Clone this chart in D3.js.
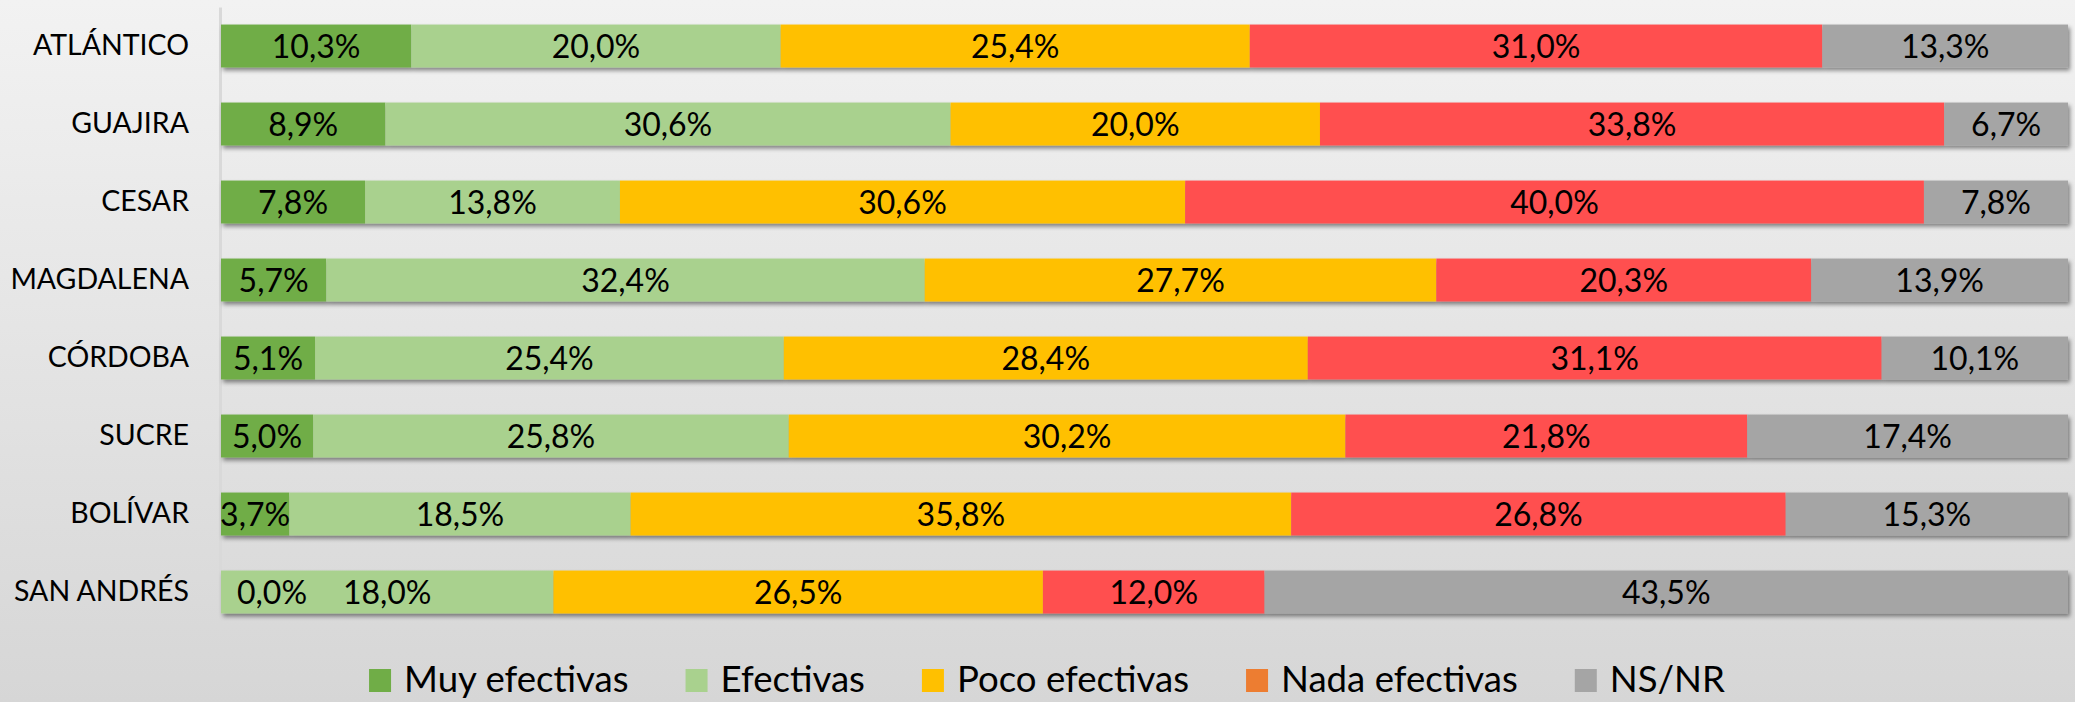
<!DOCTYPE html>
<html><head><meta charset="utf-8">
<script src="https://cdn.jsdelivr.net/npm/d3@7"></script>
<style>html,body{margin:0;padding:0;overflow:hidden;background:#e5e5e5}</style>
</head><body><svg id="chart" width="2075" height="702"></svg>
<script>
const categories = ["ATLÁNTICO","GUAJIRA","CESAR","MAGDALENA","CÓRDOBA","SUCRE","BOLÍVAR","SAN ANDRÉS"];
const seriesNames = ["Muy efectivas","Efectivas","Poco efectivas","Nada efectivas","NS/NR"];
const muyEfectivas  = [10.3, 8.9, 7.8, 5.7, 5.1, 5.0, 3.7, 0.0];
const efectivas     = [20.0, 30.6, 13.8, 32.4, 25.4, 25.8, 18.5, 18.0];
const pocoEfectivas = [25.4, 20.0, 30.6, 27.7, 28.4, 30.2, 35.8, 26.5];
const nadaEfectivas = [31.0, 33.8, 40.0, 20.3, 31.1, 21.8, 26.8, 12.0];
const nsnr          = [13.3, 6.7, 7.8, 13.9, 10.1, 17.4, 15.3, 43.5];
const barColors    = ["#70AD47","#A9D18E","#FFC000","#FF5050","#A5A5A5"];
const legendColors = ["#70AD47","#A9D18E","#FFC000","#ED7D31","#A5A5A5"];

const seriesValues = [muyEfectivas, efectivas, pocoEfectivas, nadaEfectivas, nsnr];
const rows = categories.map((c, i) => {
  const r = {cat: c};
  seriesNames.forEach((s, j) => r[s] = seriesValues[j][i]);
  return r;
});

const W = 2075, H = 702;
const svg = d3.select("#chart");
const defs = svg.append("defs");
const grad = defs.append("linearGradient").attr("id","bg").attr("x1",0).attr("y1",0).attr("x2",0).attr("y2",1);
grad.append("stop").attr("offset","0%").attr("stop-color","#f2f2f2");
grad.append("stop").attr("offset","100%").attr("stop-color","#d6d6d6");
const f = defs.append("filter").attr("id","shadow").attr("x","-5%").attr("y","-30%").attr("width","110%").attr("height","180%");
f.append("feDropShadow").attr("dx",2).attr("dy",3).attr("stdDeviation",2.2).attr("flood-color","#000").attr("flood-opacity",0.45);
defs.append("clipPath").attr("id","plotclip").append("rect").attr("x",219).attr("y",0).attr("width",1856).attr("height",640);

svg.append("rect").attr("width",W).attr("height",H).attr("fill","url(#bg)");

const x = d3.scaleLinear().domain([0,1]).range([221, 2068]);
const y = d3.scaleBand().domain(categories).range([7, 631]).paddingInner(0.45).paddingOuter(0.225);

const stack = d3.stack().keys(seriesNames).offset(d3.stackOffsetExpand);
const stacked = stack(rows);

const loc = d3.formatLocale({decimal: ",", thousands: ".", grouping: [3], currency: ["", ""]});
const fmt = loc.format(".1f");

// axis
const axisG = svg.append("g").attr("transform","translate(220,0)")
  .call(d3.axisLeft(y).tickSize(0).tickPadding(31));
axisG.select(".domain").attr("stroke","#d9d9d9").attr("stroke-width",3);
axisG.selectAll(".tick text").attr("font-family","Lato, 'Open Sans', sans-serif").attr("font-size",28.5).attr("fill","#000");

// bars per row
const rowG = svg.append("g").selectAll("g.row").data(categories).join("g")
  .attr("class","row").attr("filter","url(#shadow)");
rowG.each(function(cat, i) {
  const g = d3.select(this);
  stacked.forEach((layer, j) => {
    const d = layer[i];
    g.append("rect")
      .attr("x", x(d[0]))
      .attr("y", y(cat))
      .attr("width", Math.max(0, x(d[1]) - x(d[0])))
      .attr("height", y.bandwidth())
      .attr("fill", barColors[j]);
  });
});

// labels
const labG = svg.append("g").attr("clip-path","url(#plotclip)")
  .attr("font-family","Lato, 'Open Sans', sans-serif").attr("font-size",32).attr("fill","#000");
stacked.forEach((layer, j) => {
  layer.forEach((d, i) => {
    const v = seriesValues[j][i];
    const cx = (x(d[0]) + x(d[1])) / 2;
    const t = labG.append("text")
      .attr("y", y(categories[i]) + y.bandwidth()/2 + 12)
      .text(fmt(v) + "%");
    if (v === 0) {
      t.attr("x", x(d[0]) + 16).attr("text-anchor","start");
    } else {
      t.attr("x", cx).attr("text-anchor","middle");
    }
  });
});

// legend
const legG = svg.append("g").attr("font-family","Lato, 'Open Sans', sans-serif").attr("font-size",36.6).attr("fill","#000");
const items = seriesNames.map((name, j) => {
  const g = legG.append("g");
  g.append("rect").attr("x",0).attr("y",669).attr("width",22).attr("height",23).attr("fill",legendColors[j]);
  const t = g.append("text").attr("x",35).attr("y",692).text(name);
  return {g, w: 35 + t.node().getComputedTextLength()};
});
const gap = 57;
const total = d3.sum(items, d => d.w) + gap * (items.length - 1);
let cur = 1047 - total / 2;
items.forEach(it => { it.g.attr("transform", `translate(${cur},0)`); cur += it.w + gap; });
</script>
</body></html>
